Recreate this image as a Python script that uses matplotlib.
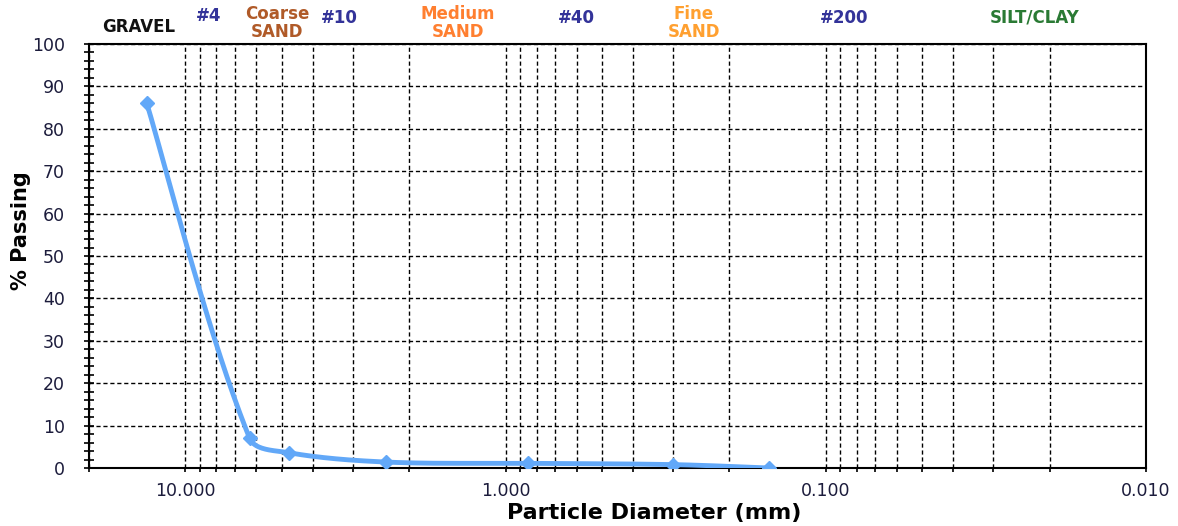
"""
=========================================================
Grain Size Distribution Curve
=========================================================
"""

import numpy as np
import matplotlib
matplotlib.use("Agg")
import matplotlib.pyplot as plt
from matplotlib.ticker import (
    FixedLocator,
    LogLocator,
    MultipleLocator,
    FormatStrFormatter,
    NullFormatter
)

# ==========================================================
# Data
# ==========================================================

particle_diameter = [13.2, 6.3, 4.75, 2.36, 0.85, 0.30, 0.15]

percent_passing = [86.0, 7.0, 3.6, 1.4, 1.1, 0.8, 0.0]

x_major_ticks = [10.0, 1.0, 0.1, 0.01]

zone_labels = ["GRAVEL", "#4", "Coarse\nSAND", "#10", "Medium\nSAND",
               "#40", "Fine\nSAND", "#200", "SILT/CLAY"]

# ==========================================================
# Layout / style
# ==========================================================

W, H = 1178, 526

LINE_COLOR = "#62a8f8"
TICK_COLOR = "#1c1c3c"

# label centres in pixels and colours
zone_x = [139, 209, 277, 339, 458, 576, 694, 844, 1035]
zone_y = [27, 16, 23, 18, 23, 18, 23, 18, 18]
zone_colors = ["#111111", "#333399", "#b05a28", "#333399", "#ff7f30",
               "#333399", "#ffa030", "#333399", "#2a7a34"]

# rough pixel scale of the axes (per decade / per percent)
PX_DECADE = 320.8
PX_PERCENT = 4.24


def px(x, y):
    return x / W, 1 - y / H


def smooth_curve(xs, ys, steps=40):
    # bezier smoothing (like the excel "smoothed line"), tangents
    # scaled by neighbour segment lengths so short steps don't overshoot
    pts = np.column_stack([np.log10(xs) * PX_DECADE,
                           np.asarray(ys) * PX_PERCENT])
    n = len(pts)
    out = []
    t = np.linspace(0, 1, steps)[:, None]

    def tangent(i):
        a = pts[max(i - 1, 0)]
        b = pts[min(i + 1, n - 1)]
        return b - a

    for i in range(n - 1):
        p1 = pts[i]
        p2 = pts[i + 1]
        seg_len = np.linalg.norm(p2 - p1)
        prev_len = np.linalg.norm(p1 - pts[i - 1]) if i > 0 else seg_len
        next_len = np.linalg.norm(pts[i + 2] - p2) if i + 2 < n else seg_len
        c1 = p1 + tangent(i) * seg_len / (seg_len + prev_len) / 3
        c2 = p2 - tangent(i + 1) * seg_len / (seg_len + next_len) / 3
        seg = ((1 - t) ** 3) * p1 + 3 * ((1 - t) ** 2) * t * c1 \
            + 3 * (1 - t) * t ** 2 * c2 + t ** 3 * p2
        out.append(seg)
    out = np.vstack(out)
    return 10 ** (out[:, 0] / PX_DECADE), out[:, 1] / PX_PERCENT


# ==========================================================
# Figure
# ==========================================================

fig = plt.figure(figsize=(W / 100, H / 100), dpi=100)

ax = fig.add_axes([89 / W, 1 - 468 / H, (1146 - 89) / W, (468 - 44) / H])

ax.set_xscale("log")
ax.set_xlim(20, 0.01)
ax.set_ylim(0, 100)

# grid
ax.xaxis.set_major_locator(FixedLocator(x_major_ticks))
ax.xaxis.set_minor_locator(LogLocator(base=10, subs=np.arange(2, 10)))
ax.xaxis.set_major_formatter(FormatStrFormatter("%.3f"))
ax.xaxis.set_minor_formatter(NullFormatter())

ax.yaxis.set_major_locator(MultipleLocator(10))
ax.yaxis.set_minor_locator(MultipleLocator(2))

ax.grid(True, which="major", axis="y", color="black",
        linestyle=(0, (3, 2)), linewidth=1.0)
ax.grid(True, which="both", axis="x", color="black",
        linestyle=(0, (3, 2)), linewidth=1.0)
ax.set_axisbelow(True)

for s in ax.spines.values():
    s.set_linewidth(1.5)
    s.set_color("black")

ax.tick_params(axis="y", which="both", direction="inout", length=7,
               width=1.2, pad=14, labelsize=12.5, labelcolor=TICK_COLOR)
ax.tick_params(axis="x", which="both", direction="out", length=3,
               width=1.2, pad=7, labelsize=12.5, labelcolor=TICK_COLOR)

# ==========================================================
# Curve
# ==========================================================

sx, sy = smooth_curve(particle_diameter, percent_passing)

ax.plot(sx, sy, color=LINE_COLOR, linewidth=3.5,
        solid_capstyle="round", zorder=3)

ax.plot(particle_diameter, percent_passing, linestyle="none",
        marker="D", markersize=7.5, color=LINE_COLOR, zorder=4)

# ==========================================================
# Labels
# ==========================================================

fx, fy = px(654, 513)
fig.text(fx, fy, "Particle Diameter (mm)", fontsize=16,
         fontweight="bold", ha="center", va="center", color="black")

fx, fy = px(21, 231)
fig.text(fx, fy, "% Passing", fontsize=15, fontweight="bold",
         rotation=90, ha="center", va="center", color="black")

for label, x, y, c in zip(zone_labels, zone_x, zone_y, zone_colors):
    fx, fy = px(x, y)
    fig.text(fx, fy, label, fontsize=12, fontweight="bold", color=c,
             ha="center", va="center", linespacing=1.0)

fig.savefig("out.png", dpi=100)
